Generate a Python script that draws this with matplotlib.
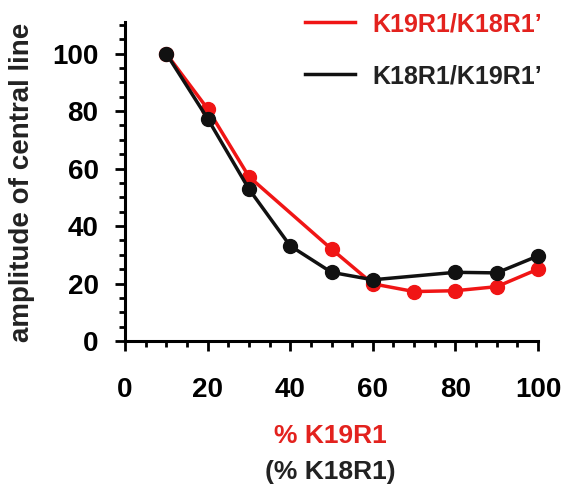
import matplotlib
matplotlib.use("Agg")
import matplotlib.pyplot as plt
from matplotlib.lines import Line2D
from matplotlib.ticker import MultipleLocator

plt.rcParams['font.family'] = ['Liberation Sans', 'DejaVu Sans']

red_x = [10, 20, 30, 50, 60, 70, 80, 90, 100]
red_y = [100, 80.8, 57.2, 32.0, 19.9, 17.2, 17.5, 18.9, 25.0]
black_x = [10, 20, 30, 40, 50, 60, 80, 90, 100]
black_y = [100, 77.4, 52.9, 33.1, 23.9, 21.3, 23.9, 23.7, 29.6]
red_label = "K19R1/K18R1\u2019"
black_label = "K18R1/K19R1\u2019"
x_ticks = [0, 20, 40, 60, 80, 100]
y_ticks = [0, 20, 40, 60, 80, 100]

RED = '#f01515'
RED_TXT = '#e3221e'
BLK = '#111111'

W, H = 566, 493
x0, x1 = 125, 538
y0, ytop = 341, 22
fig = plt.figure(figsize=(W/100, H/100), dpi=100)
ax = fig.add_axes([x0/W, 1-y0/H, (x1-x0)/W, (y0-ytop)/H])

ax.plot(red_x, red_y, color=RED, lw=2.5, marker='o', ms=10, zorder=3, clip_on=False)
ax.plot(black_x, black_y, color=BLK, lw=2.5, marker='o', ms=10, zorder=4, clip_on=False)

ax.set_xlim(0, 100)
ax.set_ylim(0, 111)
ax.set_xticks(x_ticks)
ax.set_yticks(y_ticks)
ax.xaxis.set_minor_locator(MultipleLocator(5))
ax.yaxis.set_minor_locator(MultipleLocator(5))
for s in ['top', 'right']:
    ax.spines[s].set_visible(False)
for s in ['left', 'bottom']:
    ax.spines[s].set_linewidth(2.2)
ax.tick_params(which='major', length=7, width=2, labelsize=20)
ax.tick_params(which='minor', length=4, width=2)
ax.tick_params(axis='y', which='major', pad=12)
ax.tick_params(axis='x', which='major', pad=19)
for lab in ax.get_xticklabels() + ax.get_yticklabels():
    lab.set_fontweight('bold')

ax.set_ylabel("amplitude of central line", fontsize=20, fontweight='bold', color='#222222')
ax.yaxis.set_label_coords((35 - x0) / (x1 - x0), (y0 - 182) / (y0 - ytop))
fig.text(330/W, 1-436/H, "% K19R1", color=RED_TXT, fontsize=19, fontweight='bold', ha='center', va='center')
fig.text(330/W, 1-472/H, "(% K18R1)", color='#222222', fontsize=19, fontweight='bold', ha='center', va='center')

handles = [Line2D([], [], color=RED, lw=2.5), Line2D([], [], color=BLK, lw=2.5)]
leg = ax.legend(handles, [red_label, black_label], loc='upper left',
                bbox_to_anchor=(305/W, 1-12/H), bbox_transform=fig.transFigure,
                frameon=False, handlelength=2.0, handletextpad=0.68, borderpad=0,
                borderaxespad=0, labelspacing=1.12, prop={'weight': 'bold', 'size': 18})
leg.get_texts()[0].set_color(RED_TXT)
leg.get_texts()[1].set_color('#222222')

fig.savefig("out.png", dpi=100)
